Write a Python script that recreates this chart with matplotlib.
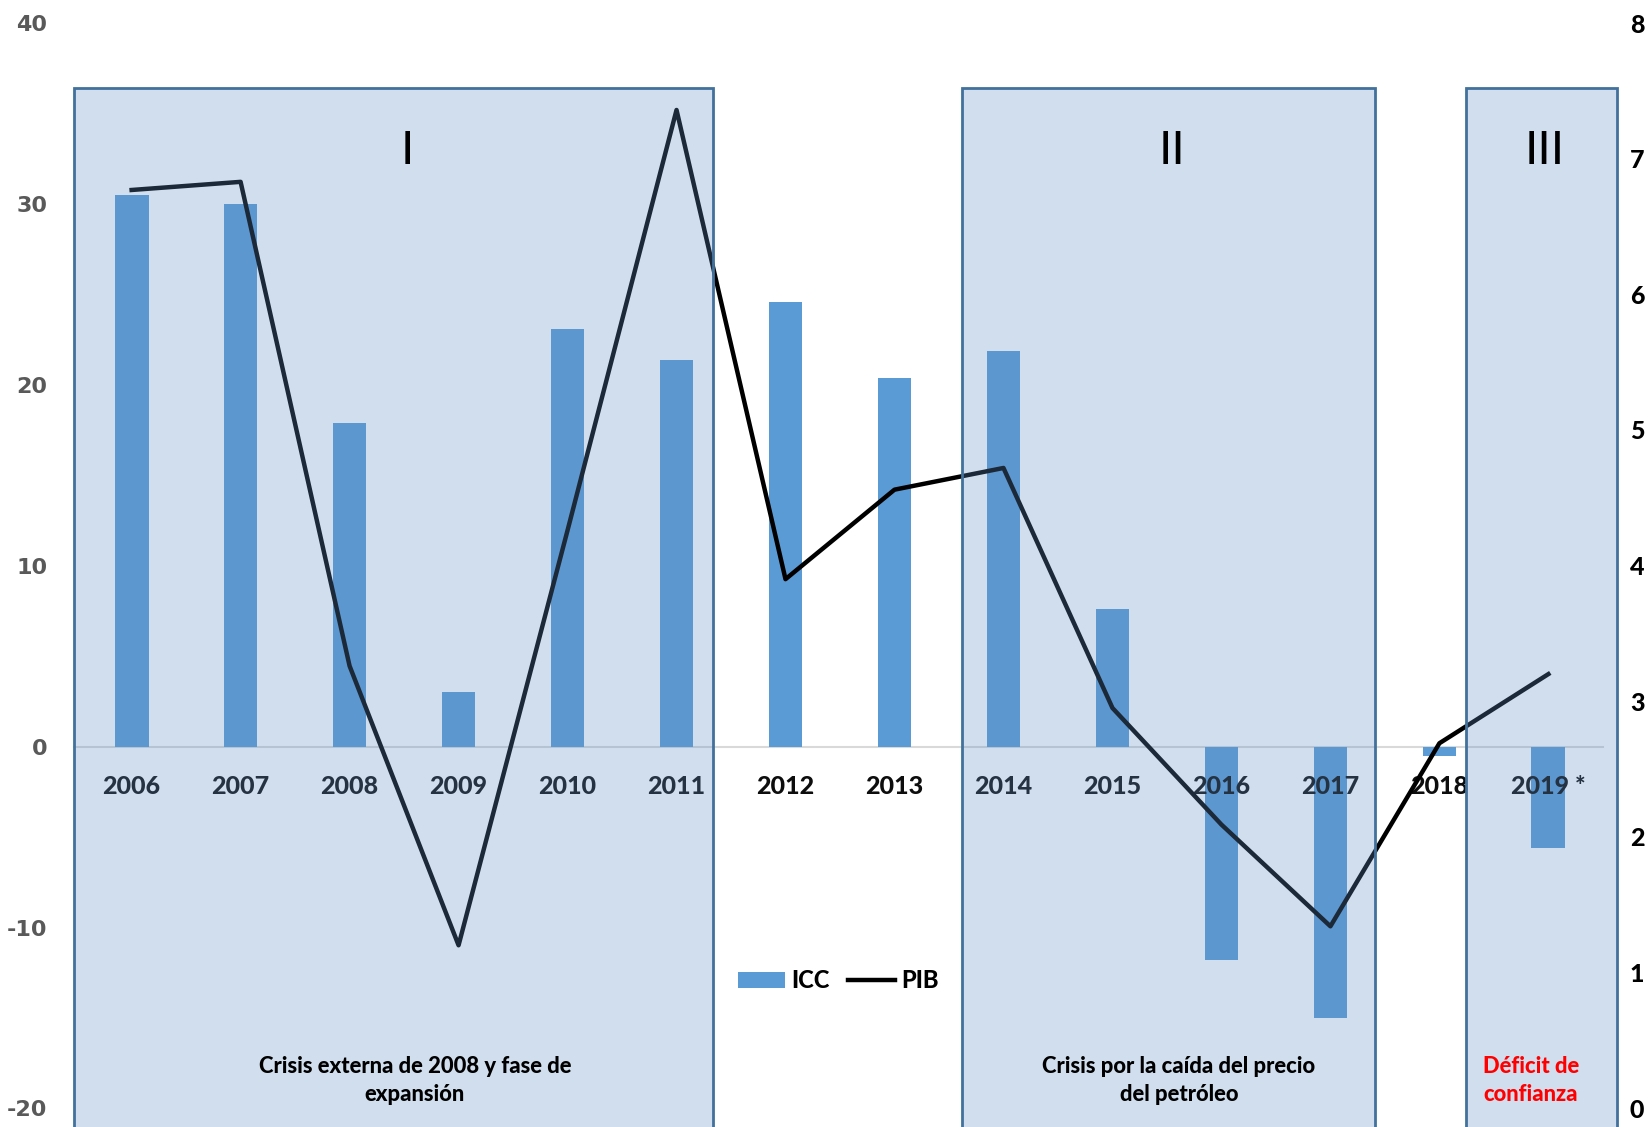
import matplotlib
matplotlib.use("Agg")
import matplotlib.pyplot as plt
from matplotlib.lines import Line2D
from matplotlib.patches import Patch
import numpy as np

# Series
years = ["2006", "2007", "2008", "2009", "2010", "2011", "2012",
         "2013", "2014", "2015", "2016", "2017", "2018", "2019 *"]
icc = [30.5, 30.0, 17.9, 3.0, 23.1, 21.4, 24.6,
       20.4, 21.9, 7.6, -11.8, -15.0, -0.5, -5.6]
pib = [6.77, 6.83, 3.26, 1.20, 4.26, 7.36, 3.90,
       4.56, 4.72, 2.95, 2.09, 1.34, 2.69, 3.20]

left_ticks = [-20, -10, 0, 10, 20, 30, 40]
right_ticks = [0, 1, 2, 3, 4, 5, 6, 7, 8]

# Shaded periods: (x start, x end, numeral, numeral x, caption, caption x, caption colour)
periods = [
    (-0.531, 5.333, "I", 2.53, "Crisis externa de 2008 y fase de\nexpansión", 2.6, "black"),
    (7.623, 11.41, "II", 9.55, "Crisis por la caída del precio\ndel petróleo", 9.61, "black"),
    (12.24, 13.63, "III", 12.97, "Déficit de\nconfianza", 12.84, "#FF0000"),
]

BAR_COLOR = "#5B9BD5"
BOX_FACE = (95 / 255, 143 / 255, 197 / 255, 0.29)
BOX_EDGE = "#41719C"
HEAVY = 900

fig = plt.figure(figsize=(16.51, 11.27), dpi=100)
ax = fig.add_axes([0.03954, 0.0, 0.98214 - 0.03954, 1.0])
ax2 = ax.twinx()

x = np.arange(len(years))

# ICC bars and zero line
ax.bar(x, icc, width=0.31, color=BAR_COLOR, zorder=2)
ax.plot([-0.531, 13.5], [0, 0], color="#D9D9D9", lw=1.5, zorder=1)
ax.set_xlim(-0.6087, 13.671)
ax.set_ylim(-21.03, 41.29)
ax.set_yticks(left_ticks)
ax.set_yticklabels([str(v) for v in left_ticks], fontsize=16,
                   fontweight="bold", color="#595959", family="DejaVu Sans")
ax.tick_params(axis="y", length=0, pad=13)
ax.set_xticks([])

for xi, lab in zip(x, years):
    ax.text(xi, -2.2, lab, ha="center", va="center", fontsize=18,
            fontweight=HEAVY, color="#0d0d0d", family="Lato", zorder=3)

# PIB line on the right axis
ax2.plot(x, pib, color="black", lw=3.2, zorder=2)
ax2.set_ylim(-0.140, 8.171)
ax2.set_yticks(right_ticks)
ax2.set_yticklabels([str(v) for v in right_ticks], fontsize=18,
                    fontweight=HEAVY, color="black", family="Lato")
ax2.tick_params(axis="y", length=0, pad=6)

for a in (ax, ax2):
    for s in a.spines.values():
        s.set_visible(False)

# Translucent period boxes on top of bars and line
for x0, x1, numeral, nx, caption, cx, ccol in periods:
    ax2.axvspan(x0, x1, ymin=-0.05, ymax=0.9215, facecolor=BOX_FACE,
                edgecolor=BOX_EDGE, lw=2, zorder=3)
    ax2.text(nx, 32.96, numeral, transform=ax.transData, ha="center",
             va="center", fontsize=34, color="black", family="Lato", zorder=4)
    ax2.text(cx, -18.45, caption, transform=ax.transData, ha="center",
             va="center", fontsize=15.8, fontweight=HEAVY, color=ccol,
             family="Lato", linespacing=1.42, zorder=4)

handles = [Patch(facecolor=BAR_COLOR, edgecolor="none"),
           Line2D([0], [0], color="black", lw=3.2)]
leg = fig.legend(handles, ["ICC", "PIB"], loc="center",
                 bbox_to_anchor=(0.5077, 0.1299), ncol=2, frameon=False,
                 prop={"family": "Lato", "weight": HEAVY, "size": 17},
                 handlelength=2.0, handletextpad=0.25, columnspacing=0.8)

fig.savefig("out.png", dpi=100)
